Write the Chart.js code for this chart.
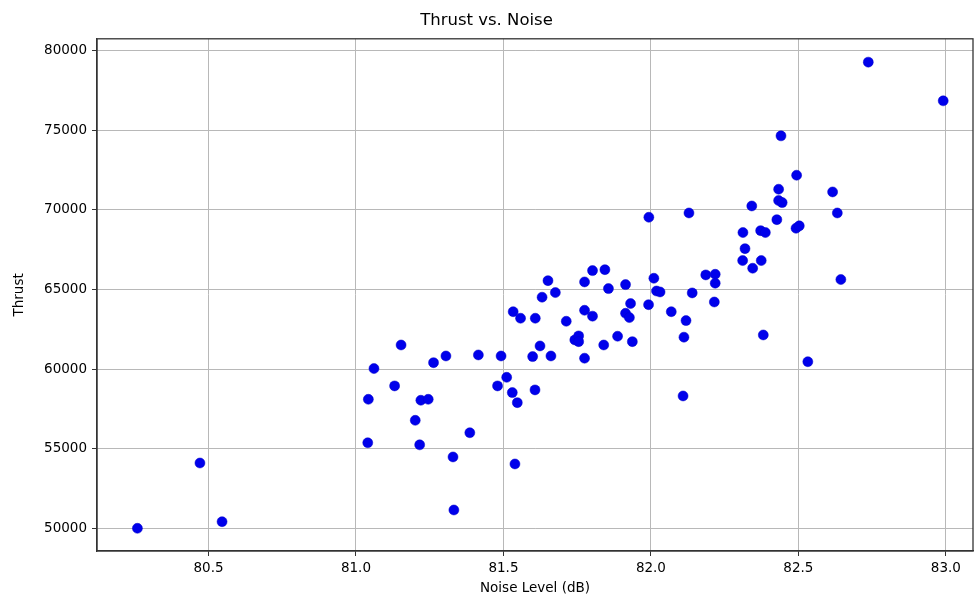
<!DOCTYPE html>
<html>
<head>
<meta charset="utf-8">
<title>Thrust vs. Noise</title>
<script src="https://cdn.jsdelivr.net/npm/chart.js@4.4.1/dist/chart.umd.min.js"></script>
<style>
    html, body { margin: 0; padding: 0; background: #fff; }
    #wrap { width: 974px; height: 599px; }
</style>
</head>
<body>
<div id="wrap"><canvas id="chart" width="974" height="599"></canvas></div>
<script>
// Noise level (dB) and thrust
var noiseDb = [
    80.259, 80.471, 80.546, 81.061, 81.042, 81.040, 81.153, 81.305, 81.263, 81.415,
    81.492, 81.599, 81.131, 81.220, 81.245, 81.201, 81.216, 81.386, 81.329, 81.332,
    81.480, 81.511, 81.530, 81.547, 81.539, 81.607, 81.533, 81.558, 81.608, 81.631,
    81.651, 81.676, 81.624, 81.661, 81.713, 81.742, 81.755, 81.755, 81.775, 81.775,
    81.802, 81.775, 81.802, 81.844, 81.856, 81.840, 81.887, 81.914, 81.931, 81.914,
    81.927, 81.937, 81.992, 82.010, 82.019, 82.031, 82.069, 81.993, 82.129, 82.119,
    82.112, 82.140, 82.186, 82.218, 82.218, 82.215, 82.109, 82.312, 82.319, 82.311,
    82.374, 82.345, 82.342, 82.372, 82.388, 82.433, 82.433, 82.445, 82.427, 82.492,
    82.503, 82.381, 82.532, 82.737, 82.991, 82.441, 82.494, 82.616, 82.632, 82.644
];
var thrust = [
    50000, 54100, 50415, 60030, 58100, 55370, 61510, 60820, 60400, 60885,
    60820, 60780, 58940, 58040, 58100, 56780, 55240, 56000, 54480, 51150,
    58940, 59480, 58520, 57890, 54040, 58690, 63600, 63190, 63190, 64510,
    65550, 64800, 61450, 60820, 63000, 61830, 62080, 61720, 60680, 63690,
    63320, 65470, 66180, 66240, 65050, 61510, 62060, 65300, 64110, 63500,
    63230, 61720, 64040, 65700, 64900, 64840, 63600, 69530, 69800, 63040,
    62000, 64780, 65910, 65950, 65390, 64210, 58310, 68570, 67560, 66810,
    66810, 66330, 70240, 68690, 68570, 71290, 70580, 70450, 69380, 68840,
    68990, 62140, 60460, 79270, 76840, 74640, 72170, 71120, 69800, 65620
];

var xTicks = [80.5, 81.0, 81.5, 82.0, 82.5, 83.0];
var yTicks = [50000, 55000, 60000, 65000, 70000, 75000, 80000];

var points = noiseDb.map(function(x, i) { return { x: x, y: thrust[i] }; });

var font = "'DejaVu Sans', sans-serif";

// top and right spines (matplotlib box)
var frame = {
    id: "frame",
    afterDraw: function(chart) {
        var a = chart.chartArea, ctx = chart.ctx;
        ctx.save();
        ctx.strokeStyle = "#333";
        ctx.lineWidth = 1.3;
        ctx.strokeRect(a.left, a.top, a.right - a.left, a.bottom - a.top);
        ctx.restore();
    }
};

new Chart(document.getElementById("chart"), {
    type: "scatter",
    data: {
        datasets: [{
            label: "Thrust",
            data: points,
            backgroundColor: "rgb(0,0,235)",
            borderColor: "rgb(0,0,200)",
            borderWidth: 0.5,
            pointRadius: 5,
            pointHoverRadius: 5
        }]
    },
    options: {
        responsive: false,
        animation: false,
        devicePixelRatio: 1,
        layout: { autoPadding: false, padding: { left: 0, right: 1, top: 0, bottom: 0 } },
        scales: {
            x: {
                type: "linear",
                min: 80.122,
                max: 83.092,
                afterBuildTicks: function(s) { s.ticks = xTicks.map(function(v) { return { value: v }; }); },
                afterFit: function(s) { s.height = 48; s.paddingLeft = 0; s.paddingRight = 0; },
                grid: { color: "#b8b8b8", lineWidth: 1, tickColor: "#333", tickLength: 5 },
                border: { color: "#333", width: 1.3 },
                ticks: {
                    color: "#000", padding: 4, maxRotation: 0,
                    font: { family: font, size: 13.5 },
                    callback: function(v) { return v.toFixed(1); }
                },
                title: { display: true, text: "Noise Level (dB)", color: "#000", font: { family: font, size: 13.5 }, padding: { top: 2, bottom: 2 } }
            },
            y: {
                type: "linear",
                min: 48574,
                max: 80735,
                afterBuildTicks: function(s) { s.ticks = yTicks.map(function(v) { return { value: v }; }); },
                afterFit: function(s) { s.width = 97; s.paddingTop = 0; s.paddingBottom = 0; },
                grid: { color: "#b8b8b8", lineWidth: 1, tickColor: "#333", tickLength: 5 },
                border: { color: "#333", width: 1.3 },
                ticks: {
                    color: "#000", padding: 5,
                    font: { family: font, size: 13.5 },
                    callback: function(v) { return String(v); }
                },
                title: { display: true, text: "Thrust", color: "#000", font: { family: font, size: 13.5 }, padding: { top: 11, bottom: 0 } }
            }
        },
        plugins: {
            legend: { display: false },
            tooltip: { enabled: false },
            title: {
                display: true,
                text: "Thrust vs. Noise",
                color: "#000",
                font: { family: font, size: 16.5, weight: "normal" },
                padding: { top: 11, bottom: 8 }
            }
        }
    },
    plugins: [frame]
});
</script>
</body>
</html>
